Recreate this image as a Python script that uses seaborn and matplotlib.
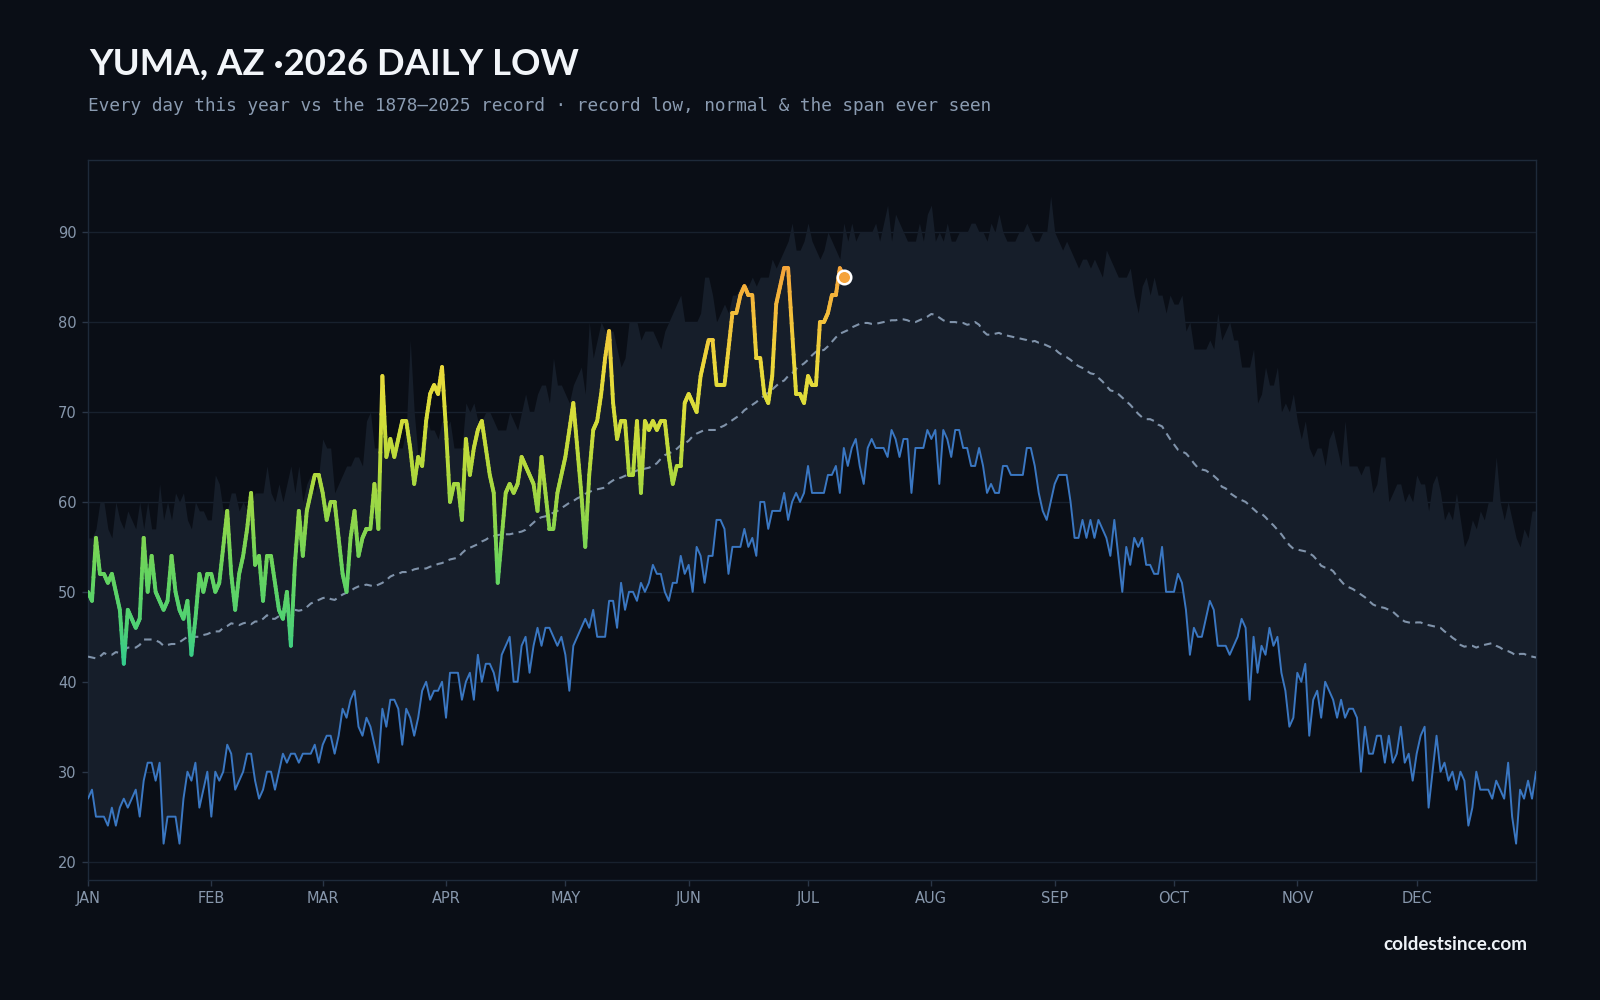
import numpy as np
import matplotlib
matplotlib.use("Agg")
import matplotlib.pyplot as plt
import seaborn as sns
from matplotlib.collections import LineCollection
from matplotlib.colors import LinearSegmentedColormap, Normalize

# Highest daily low ever seen, 1878-2025 (top of the band), day 0 = Jan 1
record_high = [
    56, 56, 57, 60, 60, 57, 56, 60, 58, 57, 59, 58, 57, 60, 57, 60, 57, 57, 62, 58,
    60, 58, 61, 60, 61, 58, 57, 60, 59, 59, 58, 58, 63, 62, 59, 59, 61, 61, 59, 60,
    59, 60, 61, 61, 61, 64,
    61, 60, 62, 60, 62, 64, 61, 64, 60, 62, 63, 61, 63, 67, 66, 66, 61, 62, 63, 64,
    64, 65, 65, 64, 69, 70, 66, 66, 67, 66, 66, 67, 66, 66, 68, 78, 70, 65, 67, 70,
    68, 68, 67, 69, 68, 69, 66, 66,
    66, 71, 70, 71, 69, 69, 70, 70, 69, 68, 68, 68, 70, 69, 68, 70, 72, 70, 70, 72,
    73, 73, 71, 76, 73, 73, 72, 71, 73, 74, 75, 72, 80, 76, 78, 80, 79, 79, 79, 77,
    75, 76, 80, 80, 80, 78, 79, 79,
    79, 78, 77, 79, 80, 81, 82, 83, 80, 80, 80, 80, 81, 85, 85, 83, 80, 81, 82, 81,
    83, 83, 84, 84, 84, 85, 84, 85, 85, 85, 87, 86, 87, 88, 89, 91, 88, 88, 89, 91,
    89, 88, 87, 88, 90, 89, 88, 87,
    91, 89, 91, 89, 90, 90, 90, 90, 91, 89, 91, 93, 89, 92, 91, 90, 89, 89, 89, 91,
    89, 92, 93, 89, 90, 89, 91, 89, 89, 90, 90, 90, 91, 91, 90, 90, 89, 91, 90, 92,
    90, 89, 89, 89, 90, 90, 91, 90,
    89, 89, 90, 90, 94, 90, 89, 88, 89, 88, 87, 86, 87, 87, 86, 87, 86, 85, 88, 87,
    86, 85, 85, 85, 86, 83, 81, 84, 85, 83, 85, 83, 83, 81, 83, 82, 82, 83, 79, 80,
    77, 77, 77, 77, 78, 77, 81, 78,
    79, 80, 78, 78, 75, 75, 75, 77, 71, 72, 75, 73, 73, 75, 70, 71, 70, 72, 69, 67,
    69, 66, 65, 66, 66, 64, 67, 68, 66, 64, 69, 64, 64, 64, 63, 64, 64, 61, 62, 65,
    65, 60, 61, 62, 62,
    60, 61, 60, 63, 62, 62, 59, 62, 63, 61, 58, 59, 58, 61, 58, 55, 56, 58, 57, 59,
    58, 60, 60, 65, 60, 58, 60, 58, 56, 55, 57, 56, 59, 59,
]

# Lowest daily low ever seen (blue line)
record_low = [
    27, 28, 25, 25, 25, 24, 26, 24, 26, 27, 26, 27, 28, 25, 29, 31, 31, 29, 31, 22,
    25, 25, 25, 22, 27, 30, 29, 31, 26, 28, 30, 25, 30, 29, 30, 33, 32, 28, 29, 30,
    32, 32, 29, 27, 28, 30,
    30, 28, 30, 32, 31, 32, 32, 31, 32, 32, 32, 33, 31, 33, 34, 34, 32, 34, 37, 36,
    38, 39, 35, 34, 36, 35, 33, 31, 37, 35, 38, 38, 37, 33, 37, 36, 34, 36, 39, 40,
    38, 39, 39, 40, 36, 41, 41, 41,
    38, 40, 41, 38, 43, 40, 42, 42, 41, 39, 43, 44, 45, 40, 40, 44, 45, 41, 44, 46,
    44, 46, 46, 45, 44, 45, 43, 39, 44, 45, 46, 47, 46, 48, 45, 45, 45, 49, 49, 46,
    51, 48, 50, 50, 49, 51, 50, 51,
    53, 52, 52, 50, 49, 51, 51, 54, 52, 53, 50, 55, 54, 51, 54, 54, 58, 58, 57, 52,
    55, 55, 55, 57, 55, 56, 54, 60, 60, 57, 59, 59, 59, 61, 58, 60, 61, 60, 61, 64,
    61, 61, 61, 61, 63, 63, 64, 61,
    66, 64, 66, 67, 64, 62, 66, 67, 66, 66, 66, 65, 68, 67, 65, 67, 67, 61, 66, 66,
    66, 68, 67, 68, 62, 68, 67, 65, 68, 68, 66, 66, 64, 64, 66, 64, 61, 62, 61, 61,
    64, 64, 63, 63, 63, 63, 66, 66,
    64, 61, 59, 58, 60, 62, 63, 63, 63, 60, 56, 56, 58, 56, 58, 56, 58, 57, 56, 54,
    58, 54, 50, 55, 53, 56, 55, 56, 53, 53, 52, 52, 55, 50, 50, 50, 52, 51, 48, 43,
    46, 45, 45, 47, 49, 48, 44, 44,
    44, 43, 44, 45, 47, 46, 38, 45, 41, 44, 43, 46, 44, 45, 41, 39, 35, 36, 41, 40,
    42, 34, 38, 39, 36, 40, 39, 38, 36, 38, 36, 37, 37, 36, 30, 35, 32, 32, 34, 34,
    31, 34, 31, 32, 35,
    31, 32, 29, 32, 34, 35, 26, 30, 34, 30, 31, 29, 30, 28, 30, 29, 24, 26, 30, 28,
    28, 28, 27, 29, 28, 27, 31, 25, 22, 28, 27, 29, 27, 30,
]

# Normal daily low (dashed)
normal = [
    42.8, 42.7, 42.6, 42.8, 43.2, 43.0, 43.0, 43.3, 43.2, 43.5, 43.8, 43.8, 43.8, 44.1,
    44.7, 44.7, 44.7, 44.6, 44.4, 44.0, 44.1, 44.2, 44.2, 44.4, 44.7, 45.0, 45.2, 45.0,
    45.0, 45.2, 45.3, 45.5, 45.6, 45.6, 46.0, 46.2, 46.5, 46.4, 46.3, 46.5, 46.6, 46.4,
    46.7, 46.7, 47.0, 47.4,
    47.0, 47.0, 47.3, 47.7, 47.9, 48.1, 48.0, 47.9, 48.0, 48.3, 48.7, 48.9, 49.1, 49.3,
    49.4, 49.2, 49.1, 49.4, 49.7, 49.9, 50.1, 50.4, 50.6, 50.7, 50.8, 50.7, 50.6, 50.8,
    51.0, 51.3, 51.7, 51.9, 52.0, 52.2, 52.2, 52.3, 52.5, 52.6, 52.6, 52.6, 52.8, 52.9,
    53.1, 53.2, 53.4, 53.6, 53.7, 53.8,
    54.3, 54.7, 54.9, 55.1, 55.3, 55.6, 55.8, 56.1, 56.2, 56.3, 56.4, 56.4, 56.4, 56.5,
    56.6, 56.7, 56.9, 57.3, 57.7, 58.1, 58.3, 58.4, 58.6, 58.8, 59.0, 59.3, 59.6, 59.9,
    60.1, 60.4, 60.6, 60.9, 61.1, 61.3, 61.4, 61.5, 61.6, 62.1, 62.4, 62.6, 62.7, 62.9,
    63.1, 63.3, 63.5, 63.6, 63.7, 63.8,
    64.0, 64.3, 64.8, 65.2, 65.4, 65.6, 65.9, 66.3, 66.5, 66.8, 67.3, 67.6, 67.8, 68.0,
    68.0, 68.0, 68.0, 68.3, 68.5, 68.8, 69.1, 69.4, 69.7, 70.2, 70.5, 70.8, 71.1, 71.5,
    71.8, 72.2, 72.5, 72.9, 73.3, 73.5, 74.0, 74.3, 74.8, 75.1, 75.4, 75.8, 76.3, 76.7,
    76.8, 76.9, 77.3, 77.8, 78.3, 78.7,
    78.9, 79.1, 79.4, 79.6, 79.8, 79.9, 79.9, 79.8, 79.8, 79.9, 80.0, 80.1, 80.2, 80.2,
    80.3, 80.3, 80.2, 80.0, 80.0, 80.2, 80.4, 80.6, 80.9, 80.8, 80.5, 80.2, 80.0, 80.0,
    80.0, 79.9, 79.9, 79.7, 79.8, 80.0, 79.7, 79.0, 78.6, 78.6, 78.7, 78.8, 78.6, 78.5,
    78.4, 78.3, 78.2, 78.1, 78.0, 77.8,
    77.9, 77.7, 77.6, 77.4, 77.2, 77.0, 76.6, 76.3, 76.1, 75.8, 75.4, 75.1, 74.9, 74.6,
    74.3, 74.2, 73.8, 73.4, 72.9, 72.4, 72.3, 72.0, 71.6, 71.2, 70.8, 70.3, 69.8, 69.4,
    69.2, 69.2, 69.0, 68.6, 68.4, 67.7, 67.0, 66.4, 65.8, 65.6, 65.4, 64.9, 64.3, 63.8,
    63.6, 63.5, 63.2, 62.9, 62.5, 61.7,
    61.5, 61.0, 60.7, 60.4, 60.2, 60.0, 59.6, 59.2, 58.8, 58.7, 58.3, 57.8, 57.4, 56.9,
    56.4, 55.8, 55.2, 54.8, 54.7, 54.6, 54.5, 54.3, 54.0, 53.5, 52.9, 52.7, 52.6, 52.3,
    51.7, 51.2, 50.7, 50.5, 50.3, 50.0, 49.7, 49.4, 49.0, 48.6, 48.4, 48.3, 48.2, 48.0,
    47.8, 47.4, 47.0,
    46.7, 46.6, 46.5, 46.6, 46.6, 46.4, 46.3, 46.2, 46.1, 46.0, 45.6, 45.3, 44.9, 44.6,
    44.1, 43.9, 44.0, 44.0, 43.8, 44.0, 44.1, 44.2, 44.3, 44.0, 43.8, 43.5, 43.4, 43.2,
    42.9, 43.1, 43.1, 42.9, 42.8, 42.7,
]

# 2026 daily lows so far (Jan 1 .. Jul 10)
this_year = [
    50, 49, 56, 52, 52, 51, 52, 50, 48, 42, 48, 47, 46, 47, 56, 50, 54, 50, 49, 48,
    49, 54, 50, 48, 47, 49, 43, 47, 52, 50, 52, 52, 50, 51, 55, 59, 52, 48, 52, 54,
    57, 61, 53, 54, 49, 54,
    54, 51, 48, 47, 50, 44, 53, 59, 54, 59, 61, 63, 63, 61, 58, 60, 60, 56, 52, 50,
    56, 59, 54, 56, 57, 57, 62, 57, 74, 65, 67, 65, 67, 69, 69, 66, 62, 65, 64, 69,
    72, 73, 72, 75, 68, 60, 62, 62,
    58, 67, 63, 66, 68, 69, 66, 63, 61, 51, 56, 61, 62, 61, 62, 65, 64, 63, 62, 59,
    65, 61, 57, 57, 61, 63, 65, 68, 71, 66, 61, 55, 63, 68, 69, 72, 76, 79, 71, 67,
    69, 69, 63, 63, 69, 61, 69, 68,
    69, 68, 69, 69, 65, 62, 64, 64, 71, 72, 71, 70, 74, 76, 78, 78, 73, 73, 73, 77,
    81, 81, 83, 84, 83, 83, 76, 76, 72, 71, 74, 82, 84, 86, 86, 79, 72, 72, 71, 74,
    73, 73, 80, 80, 81, 83, 83, 86, 85,
]

month_starts = [0, 31, 59, 90, 120, 151, 181, 212, 243, 273, 304, 334]
month_labels = ['JAN', 'FEB', 'MAR', 'APR', 'MAY', 'JUN',
                'JUL', 'AUG', 'SEP', 'OCT', 'NOV', 'DEC']
y_ticks = [20, 30, 40, 50, 60, 70, 80, 90]

BG = '#0a0e16'
BAND = '#161e2a'
MUTED = '#8797ac'


def main():
    sns.set_theme(style='dark')
    plt.rcParams['font.family'] = ['DejaVu Sans']

    days = np.arange(len(record_low))
    year_days = np.arange(len(this_year), dtype=float)
    year_vals = np.array(this_year, dtype=float)

    fig = plt.figure(figsize=(16, 10), dpi=100, facecolor=BG)
    ax = fig.add_axes([0.055, 0.1204, 0.905, 0.7194])
    ax.set_facecolor(BG)

    # span ever seen
    ax.fill_between(days, record_low, record_high, color=BAND, lw=0, zorder=1)

    # record low and normal
    sns.lineplot(x=days, y=record_low, ax=ax, color='#3a77c2', lw=1.4, zorder=3)
    sns.lineplot(x=days, y=normal, ax=ax, color='#8093aa', lw=1.5,
                 linestyle=(0, (3.6, 2.6)), zorder=3)

    # this year, coloured by temperature (each day-to-day step shaded along its height)
    cmap = LinearSegmentedColormap.from_list('lows', [
        (0.00, '#33cc8e'), (0.09, '#4ed176'), (0.23, '#66d45f'), (0.36, '#8ed64b'),
        (0.50, '#b6da3c'), (0.64, '#d9dd3a'), (0.75, '#ebd93b'), (0.86, '#f2c33b'),
        (1.00, '#f5a53a')])
    norm = Normalize(vmin=42, vmax=86)
    t = np.linspace(0, 1, 9)
    xs = year_days[:-1, None] + np.diff(year_days)[:, None] * t
    ys = year_vals[:-1, None] + np.diff(year_vals)[:, None] * t
    a = np.stack([xs[:, :-1], ys[:, :-1]], axis=-1).reshape(-1, 2)
    b = np.stack([xs[:, 1:], ys[:, 1:]], axis=-1).reshape(-1, 2)
    segs = np.stack([a, b], axis=1)
    lc = LineCollection(segs, cmap=cmap, norm=norm, linewidths=2.8,
                        capstyle='round', joinstyle='round', zorder=5)
    lc.set_array((a[:, 1] + b[:, 1]) / 2)
    ax.add_collection(lc)

    sns.scatterplot(x=[year_days[-1]], y=[year_vals[-1]], ax=ax, s=95,
                    color='#f5a33a', edgecolor='white', linewidth=1.8, zorder=7)

    ax.set_xlim(0, 364)
    ax.set_ylim(18, 98)
    ax.set_xticks(month_starts)
    ax.set_xticklabels(month_labels)
    ax.set_yticks(y_ticks)
    ax.set_xlabel('')
    ax.set_ylabel('')

    ax.set_axisbelow(True)
    ax.yaxis.grid(True, color='#18212e', lw=1.0)
    ax.xaxis.grid(False)
    ax.tick_params(axis='both', which='major', length=4, width=1,
                   color='#2a3647', labelcolor=MUTED, labelsize=10.5, pad=4,
                   bottom=True, left=True)
    for sp in ax.spines.values():
        sp.set_visible(True)
        sp.set_color('#1e2a3a')
        sp.set_linewidth(1.0)

    fig.text(0.0556, 0.925, 'YUMA, AZ \u00b72026 DAILY LOW', family=['Lato', 'DejaVu Sans'],
             fontsize=26.3, fontweight='bold', color='#f2f5f9', va='baseline', ha='left')
    fig.text(0.0553, 0.889,
             'Every day this year vs the 1878\u20132025 record \u00b7 record low, normal & the span ever seen',
             family=['DejaVu Sans Mono'], fontsize=12.8, color='#8a9bb1',
             va='baseline', ha='left')
    fig.text(0.9547, 0.05, 'coldestsince.com', family=['Lato', 'DejaVu Sans'],
             fontsize=13.6, fontweight='bold', color='#eef2f7', va='baseline', ha='right')

    fig.savefig('out.png', dpi=100, facecolor=BG)


if __name__ == '__main__':
    main()
